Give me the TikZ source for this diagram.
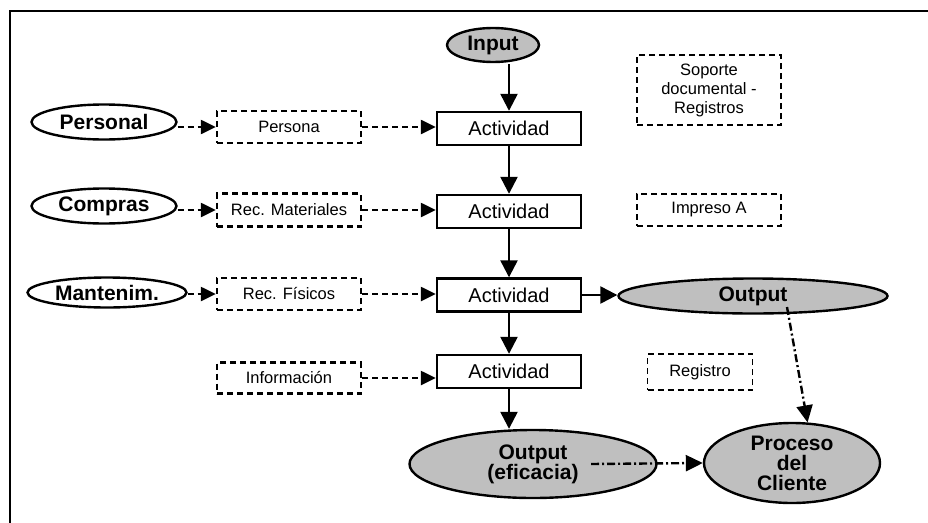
\documentclass[tikz,border=0pt]{standalone}
\usepackage{fontspec}
\setmainfont{Liberation Sans}
\usetikzlibrary{arrows.meta,shapes.geometric,calc}
\begin{document}
\begin{tikzpicture}[x=1pt,y=-1pt,
  lw/.style={line width=2.4pt},
  actbox/.style={draw,lw,rectangle,minimum width=144pt,minimum height=33pt,inner sep=0pt,font=\fontsize{20}{22}\selectfont},
  dbox/.style={draw,lw,dash pattern=on 6pt off 4pt,rectangle,minimum width=144pt,minimum height=32pt,inner sep=0pt,align=center,font=\fontsize{16.5}{19}\selectfont},
  wellipse/.style={draw,lw,ellipse,inner sep=0pt,minimum width=145pt,minimum height=35pt,font=\bfseries\fontsize{21}{20}\selectfont},
  gellipse/.style={draw,lw,ellipse,fill=black!25,inner sep=0pt,align=center,font=\bfseries\fontsize{21}{20}\selectfont},
  solidarr/.style={lw,-{Triangle[length=17pt,width=17pt]}},
  dasharr/.style={lw,dash pattern=on 6pt off 4pt,-{Triangle[length=15pt,width=14pt]}},
  dotarr/.style={lw,dash pattern=on 8pt off 3pt on 2pt off 3pt,-{Triangle[length=17pt,width=16pt]}}
]
\useasboundingbox (0,0) rectangle (928,522);
\fill[white] (0,0) rectangle (928,522);
% frame
\draw[lw] (10,530) -- (10,11) -- (935,11);

% central column
\node[gellipse,minimum width=92pt,minimum height=34pt] (input) at (493,45) {Input};
\node[actbox] (act1) at (509,128.5) {Actividad};
\node[actbox] (act2) at (509,211.5) {Actividad};
\node[actbox] (act3) at (509,295) {Actividad};
\node[actbox] (act4) at (509,371.5) {Actividad};
\node[gellipse,minimum width=247pt,minimum height=68pt] (outef) at (533,464) {Output\\(eficacia)};

% left column
\node[wellipse] (personal) at (104,122) {Personal};
\node[wellipse] (compras) at (104,206) {Compras};
\node[wellipse,minimum width=159pt,minimum height=30pt] (mantenim) at (107,292.5) {Mantenim.};

\node[dbox] (persona) at (289,127) {Persona};
\node[dbox,minimum height=33pt] (recmat) at (289,210) {Rec. Materiales};
\node[dbox] (recfis) at (289,294) {Rec. Físicos};
\node[dbox,minimum height=31pt] (info) at (289,378) {Información};

% right column
\node[dbox,minimum height=70pt] (soporte) at (709,90) {Soporte\\documental -\\Registros};
\node[dbox] (impreso) at (709,210) {Impreso A};
\node[dbox,minimum width=105pt,minimum height=36pt,line width=1.8pt] (registro) at (700,372) {Registro};
\node[gellipse,minimum width=269pt,minimum height=35pt] (output) at (753,296) {Output};
\node[gellipse,minimum width=176pt,minimum height=80pt] (proceso) at (792,463) {Proceso\\del\\Cliente};

% solid arrows
\draw[solidarr] ([yshift=-1pt]act1.north |- input.south) -- (act1.north);
\draw[solidarr] (act1.south) -- (act2.north);
\draw[solidarr] (act2.south) -- (act3.north);
\draw[solidarr] (act3.south) -- (act4.north);
\draw[solidarr] (act4.south) -- (act4.south |- outef.north);
\draw[solidarr] (act3.east) -- (act3.east -| output.west);

% dashed arrows
\draw[dasharr] (personal.east |- persona.west) -- (persona.west);
\draw[dasharr] (persona.east) -- (persona.east -| act1.west);
\draw[dasharr] (compras.east |- recmat.west) -- (recmat.west);
\draw[dasharr] (recmat.east) -- (recmat.east -| act2.west);
\draw[dasharr] (mantenim.east |- recfis.west) -- (recfis.west);
\draw[dasharr] (recfis.east) -- (recfis.east -| act3.west);
\draw[dasharr] (info.east) -- (info.east -| act4.west);

% dash-dot arrows
\coordinate (outstart) at ($(output.center)+(34,11)$);
\coordinate (efstart) at ($(outef.center)+(58,0)$);
\draw[dotarr] (outstart) -- (proceso.69);
\draw[dotarr] (efstart) -- (proceso.west);
\end{tikzpicture}
\end{document}
